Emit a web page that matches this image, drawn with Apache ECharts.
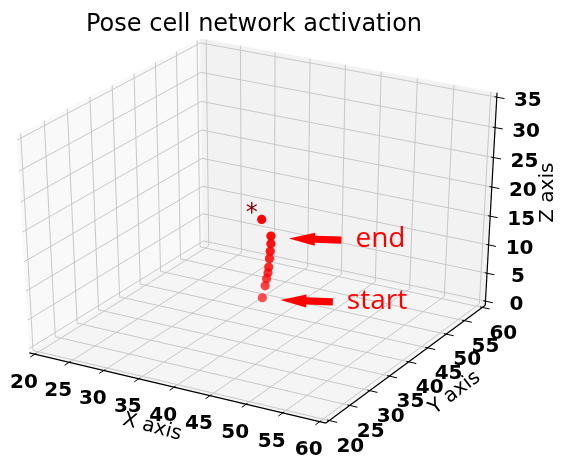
<!DOCTYPE html>
<html>
<head>
<meta charset="utf-8">
<script src="https://cdn.jsdelivr.net/npm/echarts@6/dist/echarts.min.js"></script>
<style>
  html, body { margin: 0; padding: 0; background: #ffffff; }
  #chart { width: 563px; height: 461px; }
</style>
</head>
<body>
<div id="chart"></div>
<script>
// ---- axis ranges and tick labels ----
const xRange = [20, 60];
const yRange = [20, 60];
const zRange = [0, 35];
const xTicks = [20, 25, 30, 35, 40, 45, 50, 55, 60];
const yTicks = [20, 25, 30, 35, 40, 45, 50, 55, 60];
const zTicks = [0, 5, 10, 15, 20, 25, 30, 35];

// ---- activation packet positions (x, y, z) ----
const pathX = [40.2, 40.6, 40.8, 41.0, 41.1, 41.2, 41.3, 41.4, 41.4, 40.1];
const pathY = [40, 40, 40, 40, 40, 40, 40, 40, 40, 40];
const pathZ = [4.8, 7.0, 8.3, 9.4, 10.4, 11.9, 13.2, 14.5, 15.8, 18.3];

// '*' marker location (x, y, z)
const markerPoint = [38.7, 40, 18.9];

// labelled path entries
const annotationText = ['end', 'start'];
const annotationIndex = [8, 0];

const titleText = 'Pose cell network activation';
const axisTitles = ['X axis', 'Y axis', 'Z axis'];

// ---- 3D camera (elevation / azimuth in degrees, eye distance in box units) ----
const camera = { elev: 30, azim: -60, dist: 10 };
const PAD = 1 / 48;              // panes extend a little past the limits
const LO = -PAD, HI = 1 + PAD;
const TIN = 0.008, TOUT = 0.026; // tick mark lengths (box units)

// visible window of the projection plane
const viewX = [-0.0794, 0.0919];
const viewY = [-0.095, 0.09];

const RAD = Math.PI / 180;
const ce = Math.cos(camera.elev * RAD), se = Math.sin(camera.elev * RAD);
const ca = Math.cos(camera.azim * RAD), sa = Math.sin(camera.azim * RAD);
const nVec = [ce * ca, ce * sa, se];
const uLen = Math.hypot(nVec[0], nVec[1]);
const uVec = [-nVec[1] / uLen, nVec[0] / uLen, 0];
const vVec = [
  nVec[1] * uVec[2] - nVec[2] * uVec[1],
  nVec[2] * uVec[0] - nVec[0] * uVec[2],
  nVec[0] * uVec[1] - nVec[1] * uVec[0]
];
function dot3(p, q) { return p[0] * q[0] + p[1] * q[1] + p[2] * q[2]; }

// unit-box point -> perspective view plane [px, py, depth]
function projectUnit(p) {
  const c = [p[0] - 0.5, p[1] - 0.5, p[2] - 0.5];
  const d = camera.dist - dot3(nVec, c);
  return [dot3(uVec, c) / d, dot3(vVec, c) / d, d];
}
const ranges = { x: xRange, y: yRange, z: zRange };
function unitOf(axis, v) { const r = ranges[axis]; return (v - r[0]) / (r[1] - r[0]); }
function unitPoint(x, y, z) { return [unitOf('x', x), unitOf('y', y), unitOf('z', z)]; }
function toPx(api, p) { const q = projectUnit(p); return api.coord([q[0], q[1]]); }

// ---- box geometry ----
const panes = [
  { fill: '#f9f9f9', corners: [[LO, LO, LO], [LO, HI, LO], [LO, HI, HI], [LO, LO, HI]] },
  { fill: '#f2f2f2', corners: [[LO, HI, LO], [HI, HI, LO], [HI, HI, HI], [LO, HI, HI]] },
  { fill: '#f5f5f5', corners: [[LO, LO, LO], [HI, LO, LO], [HI, HI, LO], [LO, HI, LO]] }
];
function gridPath(axis, t) {
  if (axis === 'x') return [[t, LO, LO], [t, HI, LO], [t, HI, HI]];
  if (axis === 'y') return [[LO, t, HI], [LO, t, LO], [HI, t, LO]];
  return [[HI, HI, t], [LO, HI, t], [LO, LO, t]];
}
function tickBase(axis, t) {
  if (axis === 'x') return [t, LO, LO];
  if (axis === 'y') return [HI, t, LO];
  return [HI, HI, t];
}
function tickMark(axis, t) {
  if (axis === 'x') return [[t, LO + TIN, LO], [t, LO - TOUT, LO]];
  if (axis === 'y') return [[HI - TIN, t, LO], [HI + TOUT, t, LO]];
  return [[HI - TIN, HI, t], [HI + TOUT, HI, t]];
}
const axisLines = {
  x: [[LO, LO, LO], [HI, LO, LO]],
  y: [[HI, LO, LO], [HI, HI, LO]],
  z: [[HI, HI, LO], [HI, HI, HI]]
};
const labelShift = { x: [-11, 28.5], y: [21, 26], z: [31, 4] };
const titleShift = { x: [-22, 40, -15], y: [46, 31, 37], z: [57, -9, 90] };

const tickItems = [];
[['x', xTicks], ['y', yTicks], ['z', zTicks]].forEach(([axis, ticks]) => {
  ticks.forEach(v => tickItems.push({ axis, value: v, t: unitOf(axis, v) }));
});

// projected path points for the scatter layer
const pathPoints = pathX.map((x, i) => {
  const q = projectUnit(unitPoint(x, pathY[i], pathZ[i]));
  return [q[0], q[1], q[2], i];
});
const depths = pathPoints.map(p => p[2]);
const dMin = Math.min(...depths), dMax = Math.max(...depths);
const scatterData = pathPoints.slice().sort((a, b) => b[2] - a[2]);

const tickFont = { fontFamily: 'DejaVu Sans', fontWeight: 'bold', fontSize: 20 };

const option = {
  animation: false,
  title: {
    text: titleText,
    left: 86, top: 13, padding: 0,
    textStyle: { fontFamily: 'DejaVu Sans', fontSize: 24, fontWeight: 'normal', color: '#000' }
  },
  grid: { left: 0, top: 9.8, width: 563, height: 440.3 },
  xAxis: { type: 'value', min: viewX[0], max: viewX[1], show: false },
  yAxis: { type: 'value', min: viewY[0], max: viewY[1], show: false },
  series: [
    { // panes
      type: 'custom', silent: true, z: 1,
      data: panes.map((_, i) => [i, 0]),
      renderItem: (params, api) => {
        const pane = panes[params.dataIndex];
        return {
          type: 'polygon',
          shape: { points: pane.corners.map(c => toPx(api, c)) },
          style: { fill: pane.fill, stroke: pane.fill, lineWidth: 0.5 }
        };
      }
    },
    { // grid lines
      type: 'custom', silent: true, z: 2,
      data: tickItems.map((_, i) => [i, 0]),
      renderItem: (params, api) => {
        const it = tickItems[params.dataIndex];
        return {
          type: 'polyline',
          shape: { points: gridPath(it.axis, it.t).map(c => toPx(api, c)) },
          style: { stroke: '#c8c8c8', lineWidth: 1, fill: null }
        };
      }
    },
    { // axis lines
      type: 'custom', silent: true, z: 3,
      data: [[0, 0], [1, 0], [2, 0]],
      renderItem: (params, api) => {
        const seg = axisLines[['x', 'y', 'z'][params.dataIndex]];
        return {
          type: 'polyline',
          shape: { points: seg.map(c => toPx(api, c)) },
          style: { stroke: '#000', lineWidth: 1.2, fill: null }
        };
      }
    },
    { // tick marks and tick labels
      type: 'custom', silent: true, z: 4,
      data: tickItems.map((_, i) => [i, 0]),
      renderItem: (params, api) => {
        const it = tickItems[params.dataIndex];
        const base = toPx(api, tickBase(it.axis, it.t));
        const sh = labelShift[it.axis];
        return {
          type: 'group',
          children: [
            {
              type: 'polyline',
              shape: { points: tickMark(it.axis, it.t).map(c => toPx(api, c)) },
              style: { stroke: '#000', lineWidth: 1, fill: null }
            },
            {
              type: 'text',
              x: base[0] + sh[0], y: base[1] + sh[1],
              style: Object.assign({ text: String(it.value), fill: '#000', align: 'center', verticalAlign: 'middle' }, tickFont)
            }
          ]
        };
      }
    },
    { // axis titles
      type: 'custom', silent: true, z: 4,
      data: [[0, 0], [1, 0], [2, 0]],
      renderItem: (params, api) => {
        const axis = ['x', 'y', 'z'][params.dataIndex];
        const mid = toPx(api, tickBase(axis, 0.5));
        const sh = titleShift[axis];
        return {
          type: 'text',
          x: mid[0] + sh[0], y: mid[1] + sh[1],
          rotation: sh[2] * RAD,
          style: {
            text: axisTitles[params.dataIndex], fill: '#000',
            fontFamily: 'DejaVu Sans', fontSize: 20,
            align: 'center', verticalAlign: 'middle'
          }
        };
      }
    },
    { // activation path
      type: 'custom', silent: true, z: 5,
      data: scatterData,
      renderItem: (params, api) => {
        const p = api.coord([api.value(0), api.value(1)]);
        const shade = dMax > dMin ? (api.value(2) - dMin) / (dMax - dMin) : 0;
        const alpha = 1 - 0.32 * shade;
        return {
          type: 'circle',
          shape: { cx: p[0], cy: p[1], r: 4.6 },
          style: { fill: 'rgba(255,0,0,' + alpha.toFixed(3) + ')', stroke: null }
        };
      }
    },
    { // '*' marker
      type: 'custom', silent: true, z: 6,
      data: [[0, 0]],
      renderItem: (params, api) => {
        const p = toPx(api, unitPoint(markerPoint[0], markerPoint[1], markerPoint[2]));
        return {
          type: 'text', x: p[0], y: p[1],
          style: {
            text: '*', fill: '#800000', fontFamily: 'DejaVu Sans', fontSize: 24,
            align: 'center', verticalAlign: 'middle'
          }
        };
      }
    },
    { // start / end call-outs
      type: 'custom', silent: true, z: 7,
      data: annotationText.map((_, i) => [i, 0]),
      renderItem: (params, api) => {
        const k = annotationIndex[params.dataIndex];
        const anchor = toPx(api, unitPoint(pathX[k], pathY[k], pathZ[k]));
        const tip = [anchor[0] + 18, anchor[1] + 2.3];
        const tail = [tip[0] + 52.5, tip[1] + 1.8];
        const len = Math.hypot(tail[0] - tip[0], tail[1] - tip[1]);
        const d = [(tail[0] - tip[0]) / len, (tail[1] - tip[1]) / len];
        const nrm = [-d[1], d[0]];
        const hl = 26, hw = 6.5, sw = 3.6;
        const hb = [tip[0] + d[0] * hl, tip[1] + d[1] * hl];
        const pts = [
          tip,
          [hb[0] + nrm[0] * hw, hb[1] + nrm[1] * hw],
          [hb[0] + nrm[0] * sw, hb[1] + nrm[1] * sw],
          [tail[0] + nrm[0] * sw, tail[1] + nrm[1] * sw],
          [tail[0] - nrm[0] * sw, tail[1] - nrm[1] * sw],
          [hb[0] - nrm[0] * sw, hb[1] - nrm[1] * sw],
          [hb[0] - nrm[0] * hw, hb[1] - nrm[1] * hw]
        ];
        return {
          type: 'group',
          children: [
            { type: 'polygon', shape: { points: pts }, style: { fill: '#ff0000', stroke: null } },
            {
              type: 'text', x: tail[0] + 14, y: tail[1] - 1,
              style: {
                text: annotationText[params.dataIndex], fill: '#ff0000',
                fontFamily: 'Open Sans', fontSize: 28,
                align: 'left', verticalAlign: 'middle'
              }
            }
          ]
        };
      }
    }
  ]
};

const chart = echarts.init(document.getElementById('chart'), null, { renderer: 'canvas', width: 563, height: 461 });
chart.setOption(option);
</script>
</body>
</html>
